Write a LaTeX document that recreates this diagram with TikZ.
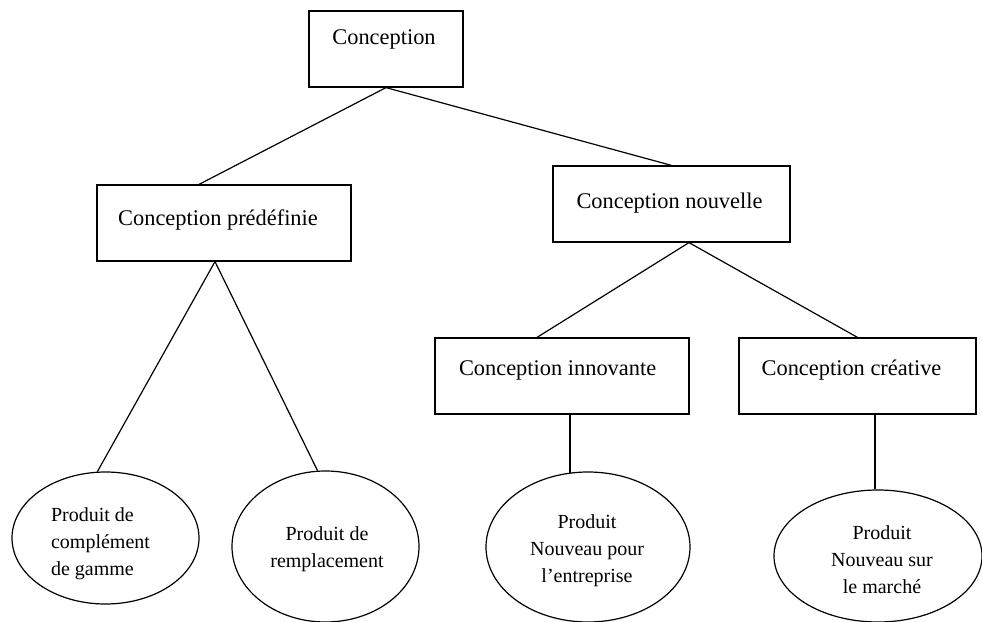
\documentclass[tikz,border=0pt]{standalone}
\usepackage{fontspec}
\setmainfont{Liberation Serif}
\usetikzlibrary{shapes.geometric,calc}
\tikzset{
  box/.style={draw, line width=0.6pt, rectangle, inner sep=0pt, minimum height=38pt},
  boxtxt/.style={font=\fontsize{11.2}{13}\selectfont, inner sep=0pt},
  oval/.style={draw, line width=0.6pt, ellipse, inner sep=0pt},
  ovaltxt/.style={font=\fontsize{10}{13.5}\selectfont, align=center, inner sep=0pt},
  link/.style={line width=0.6pt}
}
\begin{document}
\begin{tikzpicture}[x=0.5pt,y=-0.5pt]
\useasboundingbox (0,0) rectangle (982,622);
% boxes
\node[box, minimum width=77pt,
  label={[boxtxt, xshift=-1pt, yshift=5pt]center:Conception}] (c) at (386,49) {};
\node[box, minimum width=127pt,
  label={[boxtxt, xshift=-3pt, yshift=1.5pt]center:Conception prédéfinie}] (p) at (224,223) {};
\node[box, minimum width=118.5pt,
  label={[boxtxt, xshift=-1pt, yshift=0.5pt]center:Conception nouvelle}] (n) at (671.5,204) {};
\node[box, minimum width=127pt,
  label={[boxtxt, xshift=-2.2pt, yshift=3pt]center:Conception innovante}] (i) at (562,376) {};
\node[box, minimum width=118.5pt,
  label={[boxtxt, xshift=-3pt, yshift=3pt]center:Conception créative}] (r) at (857.5,376) {};
% ellipses
\node[oval, minimum width=93.5pt, minimum height=66pt,
  label={[ovaltxt, align=left, xshift=-2.5pt, yshift=-2.75pt]center:{Produit de\\complément\\de gamme}}] (e1) at (105.5,538) {};
\node[oval, minimum width=93.5pt, minimum height=75.5pt,
  label={[ovaltxt, xshift=0.75pt, yshift=-1.5pt]center:{Produit de\\remplacement}}] (e2) at (325.5,546.5) {};
\node[oval, minimum width=102pt, minimum height=75pt,
  label={[ovaltxt, xshift=-0.5pt, yshift=-1.75pt]center:{Produit\\Nouveau pour\\l’entreprise}}] (e3) at (588,547) {};
\node[oval, minimum width=104pt, minimum height=66pt,
  label={[ovaltxt, xshift=2pt, yshift=-1.75pt]center:{Produit\\Nouveau sur\\le marché}}] (e4) at (878,556) {};
% connectors
\draw[link] (c.south) -- ($(p.north)+(-12.5pt,0)$);
\draw[link] (c.south) -- (n.north);
\coordinate (pa) at ($(p.south)+(-4.5pt,0)$);
\draw[link] (e1.97) -- (pa) -- (e2.96);
\coordinate (na) at ($(n.south)+(8.75pt,0)$);
\draw[link] ($(i.north)+(-12.5pt,0)$) -- (na) -- (r.north);
\coordinate (ib) at ($(i.south)+(4pt,0)$);
\draw[link] (ib) -- (ib |- e3.104);
\coordinate (rb) at ($(r.south)+(8.75pt,0)$);
\draw[link] (rb) -- (rb |- e4.north);
\end{tikzpicture}
\end{document}
